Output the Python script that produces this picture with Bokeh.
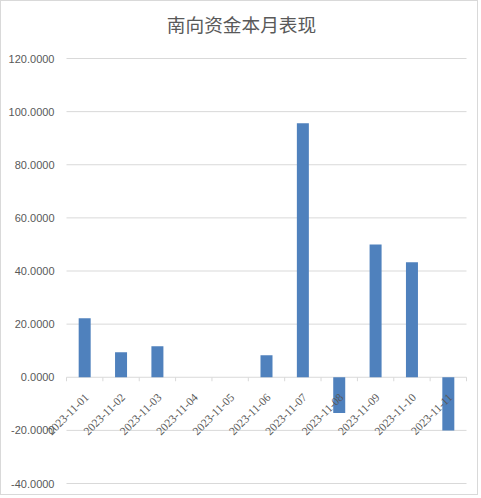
from math import pi
from bokeh.plotting import figure
from bokeh.models import (Range1d, LinearAxis, FixedTicker, NumeralTickFormatter,
                          LabelSet, Label, ColumnDataSource)
from bokeh.embed import file_html
from bokeh.resources import INLINE

# ---- data ----
title_text = "南向资金本月表现"
dates = ["2023-11-01", "2023-11-02", "2023-11-03", "2023-11-04", "2023-11-05",
         "2023-11-06", "2023-11-07", "2023-11-08", "2023-11-09", "2023-11-10",
         "2023-11-11"]
values = [22.2, 9.4, 11.7, 0.0, 0.0, 8.3, 95.6, -13.5, 50.0, 43.3, -20.0]
y_ticks = [-40, -20, 0, 20, 40, 60, 80, 100, 120]

TEXT = "#595959"
GRID = "#d9d9d9"
BAR = "#4f81bd"
FONT = "Liberation Sans"

# ---- layout (pixels on the canvas) ----
W, H = 478, 495
PLOT_L, PLOT_R = 65, 465      # where the category area starts / ends
PLOT_T, PLOT_B = 57, 482      # where the value axis top / bottom lie

n = len(dates)
slot_centers = [i + 0.5 for i in range(n)]
slot_edges = list(range(n + 1))

px_x = (PLOT_R - PLOT_L) / n
px_y = (PLOT_B - PLOT_T) / (y_ticks[-1] - y_ticks[0])
x_range = Range1d(-PLOT_L / px_x, n + (W - PLOT_R) / px_x)
y_range = Range1d(y_ticks[0] - (H - PLOT_B) / px_y, y_ticks[-1] + PLOT_T / px_y)

p = figure(width=W, height=H, x_range=x_range, y_range=y_range,
           output_backend="svg", toolbar_location=None,
           x_axis_location=None, y_axis_location=None,
           min_border=0, styles={"border": "1px solid #d9d9d9"})
p.outline_line_color = None
p.grid.visible = False

# horizontal grid lines over the category area
p.segment(x0=[0] * len(y_ticks), x1=[n] * len(y_ticks), y0=y_ticks, y1=y_ticks,
          line_color=GRID, line_width=1)

# category boundary tick marks below the zero line
p.ray(x=slot_edges, y=[0] * len(slot_edges), length=4, length_units="screen",
      angle=-pi / 2, line_color=GRID, line_width=1)

# bars
p.vbar(x=slot_centers, top=values, bottom=0, width=0.33,
       fill_color=BAR, line_color=None)

# value axis, labels to the left of the category area
yax = LinearAxis(ticker=FixedTicker(ticks=y_ticks),
                 formatter=NumeralTickFormatter(format="0.0000"),
                 fixed_location=0)
yax.axis_line_color = None
yax.major_tick_line_color = None
yax.minor_tick_line_color = None
yax.major_tick_out = 0
yax.major_tick_in = 0
yax.major_label_standoff = 12
yax.major_label_text_font = FONT
yax.major_label_text_font_size = "11px"
yax.major_label_text_color = TEXT
p.add_layout(yax, "left")

# category labels below the zero line
src = ColumnDataSource(dict(x=slot_centers, y=[0] * n, text=dates))
labels = LabelSet(source=src, x="x", y="y", text="text",
                  angle=pi / 4, text_align="right", text_baseline="middle",
                  x_offset=2, y_offset=-18,
                  text_font=FONT, text_font_size="11.5px", text_color=TEXT)
p.add_layout(labels)

# title
title = Label(x=W / 2 + 1, y=H - 22, x_units="screen", y_units="screen",
              text=title_text, text_align="center", text_baseline="middle",
              text_font="Noto Sans CJK SC", text_font_size="18.7px",
              text_color=TEXT)
p.add_layout(title)

open("out.html", "w").write(file_html(p, INLINE))
